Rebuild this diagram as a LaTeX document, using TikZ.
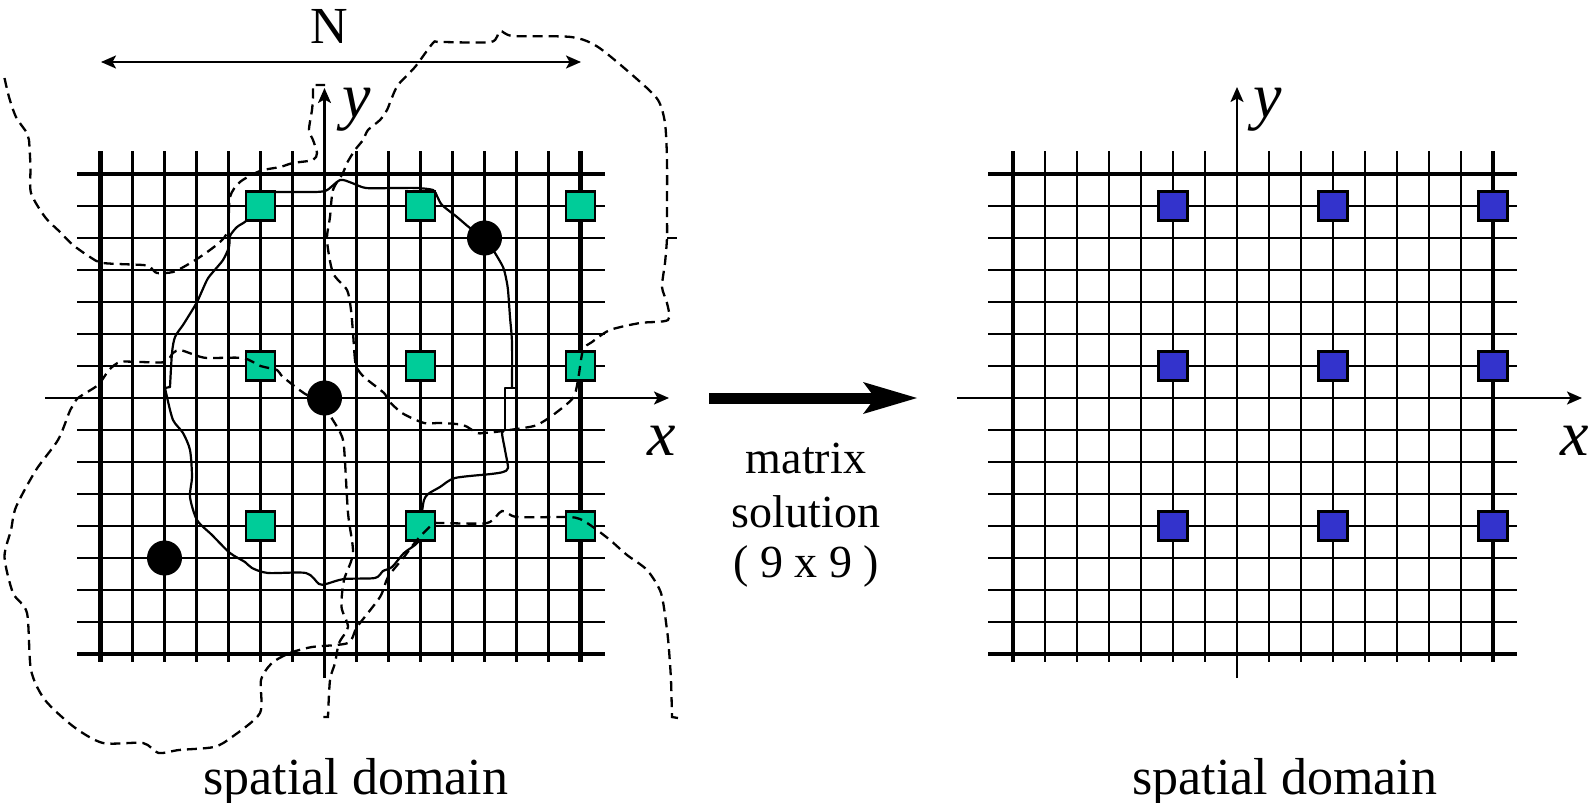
\documentclass[tikz,border=0pt]{standalone}
\usepackage{fontspec}
\setmainfont{Liberation Serif}
\usetikzlibrary{arrows.meta}
\definecolor{gfill}{HTML}{00CC99}
\definecolor{bfill}{HTML}{3333CC}
\begin{document}
\begin{tikzpicture}[x=1pt,y=-1pt,
  gridline/.style={line width=2.4pt},
  gridbold/.style={line width=4.8pt},
  axisline/.style={line width=2.2pt,-{Stealth[length=15pt,width=13pt,inset=3.5pt]}},
  dimline/.style={line width=2.2pt,{Stealth[length=15pt,width=13pt,inset=3.5pt]}-{Stealth[length=15pt,width=13pt,inset=3.5pt]}},
  bigarrow/.style={line width=11pt,-{Stealth[length=54pt,width=32pt,inset=12pt,line width=0pt]}},
  gsq/.style={rectangle,draw=black,line width=2.2pt,fill=gfill,minimum size=29pt,inner sep=0pt},
  bsq/.style={rectangle,draw=black,line width=2.2pt,fill=bfill,minimum size=29pt,inner sep=0pt},
  blackdot/.style={circle,fill=black,minimum size=35pt,inner sep=0pt},
  dashline/.style={line width=2.3pt,dash pattern=on 10pt off 6pt},
  curveline/.style={line width=2.2pt,line join=round,line cap=round},
  upright/.style={inner sep=0pt,anchor=base,font=\fontsize{52}{60}\selectfont},
  midtext/.style={inner sep=0pt,anchor=base,font=\fontsize{46}{55}\selectfont},
  axlabel/.style={inner sep=0pt,anchor=base,font=\fontsize{64}{70}\selectfont\itshape}]
\fill[white] (0,0) rectangle (1596,803);
\useasboundingbox (0,0) rectangle (1596,803);

% ---------- left grid ----------
\foreach \i in {1,...,14} {\draw[gridline] ({100.5+32*\i},151) -- ({100.5+32*\i},662);}
\foreach \j in {1,...,14} {\draw[gridline] (77,{174+32*\j}) -- (605,{174+32*\j});}
\draw[gridbold] (100.5,151) -- (100.5,662);
\draw[gridbold] (580.5,151) -- (580.5,662);
\draw[gridbold] (77,174) -- (605,174);
\draw[gridbold] (77,654) -- (605,654);

% ---------- right grid ----------
\foreach \i in {1,...,14} {\draw[gridline] ({1013+32*\i},151) -- ({1013+32*\i},662);}
\foreach \j in {1,...,14} {\draw[gridline] (988,{174+32*\j}) -- (1517,{174+32*\j});}
\draw[gridbold] (1013,151) -- (1013,662);
\draw[gridbold] (1493,151) -- (1493,662);
\draw[gridbold] (988,174) -- (1517,174);
\draw[gridbold] (988,654) -- (1517,654);

% ---------- axes ----------
\coordinate (lxa) at (45,398);   \coordinate (lxb) at (669,398);
\coordinate (lya) at (324.5,678); \coordinate (lyb) at (324.5,88);
\coordinate (rxa) at (957,398);  \coordinate (rxb) at (1582,398);
\coordinate (rya) at (1237,678); \coordinate (ryb) at (1237,87);
\draw[axisline] (lxa) -- (lxb);
\draw[axisline] (lya) -- (lyb);
\draw[axisline] (rxa) -- (rxb);
\draw[axisline] (rya) -- (ryb);

% ---------- dimension arrow N ----------
\coordinate (na) at (101,62); \coordinate (nb) at (581,62);
\draw[dimline] (na) -- (nb);
\node[upright] (Nlab) at (329,43) {N};

% ---------- solid contour ----------
\draw[curveline] plot[smooth,tension=0.45] coordinates {(276,192) (300,192) (325,191) (340,180) (352,183) (366,188) (395,188) (417,188) (433,190) (437,196) (442,205) (457,217) (470,228) (485,238)};
\draw[curveline] plot[smooth,tension=0.45] coordinates {(485,238) (495,253) (503,267) (506,278) (508,290) (510,317) (512,343) (512,388)};
\draw[curveline] (512,360) -- (512,388) -- (505,388) -- (505,430);
\draw[curveline] (512,388) -- (516,388) -- (516,428);
\draw[curveline] plot[smooth,tension=0.45] coordinates {(505,430) (502,433) (505,450) (508,468) (503,472) (491,474) (455,478) (440,487) (428,494) (424,500) (422,512) (420.5,526)};
\draw[curveline] plot[smooth,tension=0.45] coordinates {(420.5,526) (418,542) (404,553) (392,567) (383,571) (375,578) (344,579) (326,584) (319,584) (306,573) (268,573) (252,568) (245,562) (230,553) (212,535) (197,520) (190,497) (192,477) (190,450) (183,433) (173,420) (167,397)};
\draw[curveline] (167,397) -- (165,388) -- (170,387);
\draw[curveline] plot[smooth,tension=0.45] coordinates {(170,387) (172,353) (175,337) (183,325) (188,317) (197,302) (207,280) (213,272) (223,260) (229,247) (230,236) (237,227) (246,221) (260.5,206)};

% ---------- squares and dots (left) ----------
\node[gsq] (g11) at (260.5,206) {};
\node[gsq] (g12) at (420.5,206) {};
\node[gsq] (g13) at (580.5,206) {};
\node[gsq] (g21) at (260.5,366) {};
\node[gsq] (g22) at (420.5,366) {};
\node[gsq] (g23) at (580.5,366) {};
\node[gsq] (g31) at (260.5,526) {};
\node[gsq] (g32) at (420.5,526) {};
\node[gsq] (g33) at (580.5,526) {};
\node[blackdot] (d1) at (484.5,238) {};
\node[blackdot] (d2) at (324.5,398) {};
\node[blackdot] (d3) at (164.5,558) {};

% ---------- dashed contours ----------
\draw[dashline] plot[smooth,tension=0.45] coordinates {(4.5,78) (9,97) (16,117) (27,133) (29,140) (30.5,167) (31,193) (45,217) (60,232) (73,245) (90,257) (103,263) (143,265) (150,267) (157,273) (173,272) (187,265) (203,255) (220,242) (228,230) (230,197) (240,182) (260,171) (280,167) (293,163) (313,160) (317,153) (313,140) (309,130) (312,110) (313,97) (313,85)} -- (325,85);

\draw[dashline] plot[smooth cycle,tension=0.45] coordinates {(357,368) (355,360) (353,333) (351,310) (347,290) (333,273) (327,240) (330,217) (333,190) (343,173) (347,163) (355,150) (363,140) (368,130) (380,120) (387,110) (391,100) (398,85) (415,67) (433,43) (440,42) (491,42) (500,31) (513,36) (571,37) (598,47) (638,80) (658,100) (665,123) (667,160) (667,210) (667,238) (665,263) (662,287) (667,303) (668,320) (640,323) (610,330) (592,342) (583,350) (578,380) (573,398) (553,415) (537,425) (523,428) (495,432) (483,433) (477,433) (463,425) (440,423) (424,423) (402,413) (388,400) (384,393) (364,377)};
\draw[line width=2.3pt] (667,238) -- (677,238);

\draw[dashline] (678,718) -- plot[smooth,tension=0.45] coordinates {(672,717) (671,680) (669,650) (667,630) (661,593) (647,570) (627,555) (610,540) (593,527) (580,519) (567,517) (517,517) (502,511) (487,523) (440,523) (433,524) (417,540) (404,557) (388,577) (380,597) (357,627) (348,643) (312,647) (290,653) (272,663) (261,680) (260,713) (232,737) (214,747) (179,750) (158.5,753) (143,743) (103,743) (74,727) (45,700) (31,670) (27,613) (13,593) (4.5,557) (11,530) (16,507) (36,470) (58,440) (69,413) (72,407) (78,398) (98,385) (109,370) (120,362) (140,362) (165,362) (173,353) (180,350) (195,355) (207,358) (243,358) (260.5,366) (277,370) (283,377) (307,395) (324,398) (330,415) (340,432) (344,447) (348,513) (353,553) (344,580) (341.5,607) (348,627) (339,643) (335,663) (330,680) (328,717)} -- (322,717);

% ---------- squares (right) ----------
\node[bsq] (b11) at (1173,206) {};
\node[bsq] (b12) at (1333,206) {};
\node[bsq] (b13) at (1493,206) {};
\node[bsq] (b21) at (1173,366) {};
\node[bsq] (b22) at (1333,366) {};
\node[bsq] (b23) at (1493,366) {};
\node[bsq] (b31) at (1173,526) {};
\node[bsq] (b32) at (1333,526) {};
\node[bsq] (b33) at (1493,526) {};

% ---------- big arrow ----------
\coordinate (ba) at (709,398); \coordinate (bb) at (917,398);
\draw[bigarrow] (ba) -- (bb);

% ---------- labels ----------
\node[axlabel] (ly1) at (357,117) {y};
\node[axlabel] (lx1) at (662,455) {x};
\node[axlabel] (ly2) at (1268,117) {y};
\node[axlabel] (lx2) at (1575,455) {x};
\node[midtext] (m1) at (806,473) {matrix};
\node[midtext] (m2) at (806,527) {solution};
\node[midtext] (m3) at (806,577) {( 9 x 9 )};
\node[upright] (sd1) at (356,794) {spatial domain};
\node[upright] (sd2) at (1285,794) {spatial domain};
\end{tikzpicture}
\end{document}
